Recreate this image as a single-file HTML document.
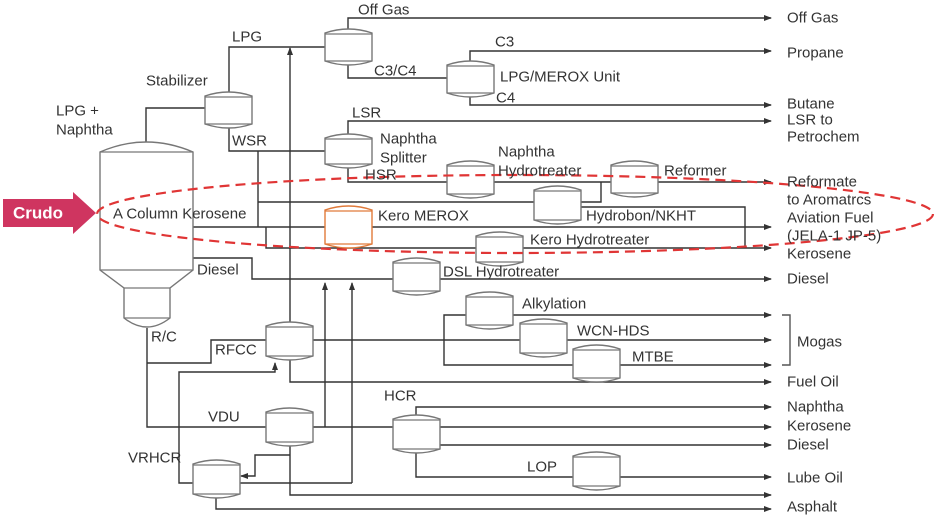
<!DOCTYPE html>
<html><head><meta charset="utf-8"><style>
html,body{margin:0;padding:0;background:#fff;width:936px;height:519px;overflow:hidden}
svg{display:block}
text{font-family:"Liberation Sans",sans-serif;font-size:15px;fill:#333;dominant-baseline:central}
.l{stroke:#333;stroke-width:1.4;fill:none}
</style></head><body>
<svg id="s" width="936" height="519" viewBox="0 0 936 519">
<defs><marker id="a" markerWidth="8" markerHeight="6" refX="7" refY="3" orient="auto" markerUnits="userSpaceOnUse"><path d="M0,0 L8,3 L0,6 Z" fill="#333"/></marker></defs>
<g class="l" id="lines">
<polyline points="146,143 146,108 205,108"/>
<polyline points="229,92 229,47 325,47"/>
<line x1="290" y1="323" x2="290" y2="48" marker-end="url(#a)"/>
<polyline points="348,29 348,18 771,18" marker-end="url(#a)"/>
<polyline points="348,65 348,78 447,78"/>
<polyline points="470,61 470,51 771,51" marker-end="url(#a)"/>
<polyline points="470,97 470,105 771,105" marker-end="url(#a)"/>
<polyline points="348,134 348,121 771,121" marker-end="url(#a)"/>
<polyline points="229,128 229,151 325,151"/>
<polyline points="258,151 258,227"/>
<polyline points="258,202 534,202"/>
<polyline points="348,168 348,182 447,182"/>
<line x1="493" y1="182" x2="611" y2="182"/>
<line x1="658" y1="182" x2="771" y2="182" marker-end="url(#a)"/>
<polyline points="581,202 601,202 601,182"/>
<polyline points="581,207 745,207 745,248"/>
<line x1="193" y1="227" x2="325" y2="227"/>
<line x1="371" y1="227" x2="771" y2="227" marker-end="url(#a)"/>
<polyline points="266,227 266,248 476,248"/>
<line x1="522" y1="248" x2="771" y2="248" marker-end="url(#a)"/>
<polyline points="193,258 252,258 252,279 393,279"/>
<line x1="440" y1="279" x2="771" y2="279" marker-end="url(#a)"/>
<line x1="325" y1="427" x2="325" y2="283" marker-end="url(#a)"/>
<line x1="352" y1="483" x2="352" y2="283" marker-end="url(#a)"/>
<line x1="240" y1="483" x2="352" y2="483"/>
<polyline points="147,328 147,427 266,427"/>
<polyline points="147,363 211,363 211,340 266,340"/>
<line x1="313" y1="340" x2="520" y2="340"/>
<line x1="567" y1="340" x2="771" y2="340" marker-end="url(#a)"/>
<polyline points="466,315 444,315 444,365 573,365"/>
<line x1="513" y1="315" x2="771" y2="315" marker-end="url(#a)"/>
<line x1="620" y1="365" x2="771" y2="365" marker-end="url(#a)"/>
<polyline points="290,360 290,382 771,382" marker-end="url(#a)"/>
<polyline points="782,315 790,315 790,365 782,365" style="stroke:#555"/>
<polyline points="193,483 179,483 179,372 275,372 275,363" marker-end="url(#a)"/>
<line x1="313" y1="427" x2="393" y2="427"/>
<polyline points="290,446 290,495 771,495" marker-end="url(#a)"/>
<polyline points="290,455 255,455 255,476 241,476" marker-end="url(#a)"/>
<polyline points="216,498 216,509 771,509" marker-end="url(#a)"/>
<polyline points="416,415 416,407 771,407" marker-end="url(#a)"/>
<line x1="440" y1="427" x2="771" y2="427" marker-end="url(#a)"/>
<line x1="440" y1="445" x2="771" y2="445" marker-end="url(#a)"/>
<polyline points="416,453 416,477 573,477"/>
<line x1="620" y1="477" x2="771" y2="477" marker-end="url(#a)"/>
</g>
<path d="M100,152 Q146,132 193,152 V270 L170,288 V318 Q147,336 124,318 V288 L100,270 Z" fill="#fff" stroke="#777" stroke-width="1.4"/>
<path d="M100,152 H193 M100,270 H193 M124,288 H170 M124,318 H170" stroke="#777" stroke-width="1.2"/>
<g id="v"></g>
<path d="M3,199 H73 V192 L96,213 L73,234 V227 H3 Z" fill="#cf3560"/>
<text x="38" y="213" text-anchor="middle" style="fill:#fff;font-weight:bold;font-size:17px">Crudo</text>
<ellipse cx="515" cy="214" rx="418" ry="39" fill="none" stroke="#e03535" stroke-width="2.2" stroke-dasharray="10,6"/>
<text x="358" y="10">Off Gas</text>
<text x="232" y="37">LPG</text>
<text x="146" y="81">Stabilizer</text>
<text x="56" y="111">LPG +</text>
<text x="56" y="130">Naphtha</text>
<text x="374" y="71">C3/C4</text>
<text x="495" y="42">C3</text>
<text x="500" y="77">LPG/MEROX Unit</text>
<text x="496" y="98">C4</text>
<text x="352" y="113">LSR</text>
<text x="232" y="141">WSR</text>
<text x="380" y="139">Naphtha</text>
<text x="380" y="158">Splitter</text>
<text x="365" y="175">HSR</text>
<text x="498" y="152">Naphtha</text>
<text x="498" y="171">Hydrotreater</text>
<text x="664" y="171">Reformer</text>
<text x="113" y="214">A Column Kerosene</text>
<text x="378" y="216">Kero MEROX</text>
<text x="586" y="216">Hydrobon/NKHT</text>
<text x="530" y="240">Kero Hydrotreater</text>
<text x="197" y="270">Diesel</text>
<text x="443" y="272">DSL Hydrotreater</text>
<text x="522" y="304">Alkylation</text>
<text x="577" y="331">WCN-HDS</text>
<text x="632" y="357">MTBE</text>
<text x="151" y="337">R/C</text>
<text x="215" y="350">RFCC</text>
<text x="384" y="396">HCR</text>
<text x="208" y="417">VDU</text>
<text x="128" y="458">VRHCR</text>
<text x="527" y="467">LOP</text>
<text x="787" y="18">Off Gas</text>
<text x="787" y="53">Propane</text>
<text x="787" y="104">Butane</text>
<text x="787" y="120">LSR to</text>
<text x="787" y="137">Petrochem</text>
<text x="787" y="182">Reformate</text>
<text x="787" y="200">to Aromatrcs</text>
<text x="787" y="218">Aviation Fuel</text>
<text x="787" y="236">(JELA-1 JP-5)</text>
<text x="787" y="254">Kerosene</text>
<text x="787" y="279">Diesel</text>
<text x="797" y="342">Mogas</text>
<text x="787" y="382">Fuel Oil</text>
<text x="787" y="407">Naphtha</text>
<text x="787" y="426">Kerosene</text>
<text x="787" y="445">Diesel</text>
<text x="787" y="478">Lube Oil</text>
<text x="787" y="507">Asphalt</text>
</svg>
<script>
var V=[[205,92,128],[325,29,65],[447,61,97],[325,134,168],[447,161,198],[611,161,197],[534,186,224],[325,206,248,1],[476,232,266],[393,258,295],[466,292,329],[520,319,357],[573,345,382],[266,322,360],[266,408,446],[193,460,498],[393,415,453],[573,452,490]];
var g=document.getElementById('v'),h='';
V.forEach(function(v){var x=v[0],t=v[1],b=v[2],w=47,c=v[3]?'#e07a3a':'#777';
h+='<path d="M'+x+','+(t+4)+' Q'+(x+w/2)+','+(t-4)+' '+(x+w)+','+(t+4)+' V'+(b-4)+' Q'+(x+w/2)+','+(b+4)+' '+x+','+(b-4)+' Z" fill="#fff" stroke="'+c+'" stroke-width="1.4"/>';
h+='<path d="M'+x+','+(t+5)+' H'+(x+w)+' M'+x+','+(b-4)+' H'+(x+w)+'" stroke="'+c+'" stroke-width="1.2"/>';});
g.innerHTML=h;
</script>
</body></html>
